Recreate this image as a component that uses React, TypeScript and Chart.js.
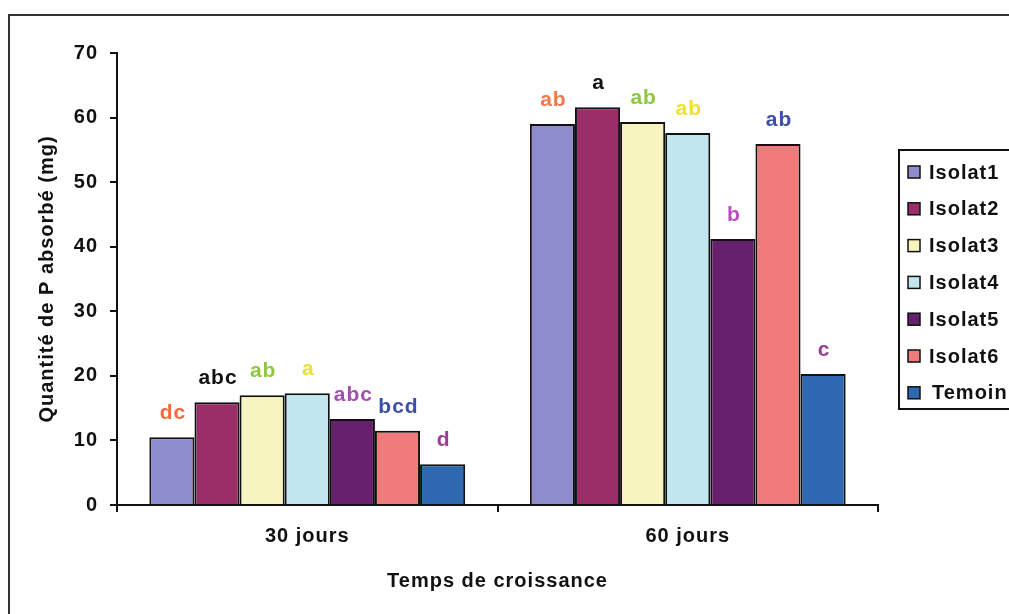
import React, { useEffect, useRef } from "react";
import { Chart, registerables } from "chart.js";

Chart.register(...registerables);

const categories = ["30 jours", "60 jours"];
const seriesNames = ["Isolat1", "Isolat2", "Isolat3", "Isolat4", "Isolat5", "Isolat6", "Temoin"];
const isolat1 = [10.5, 59.0];
const isolat2 = [15.9, 61.6];
const isolat3 = [17.0, 59.3];
const isolat4 = [17.3, 57.6];
const isolat5 = [13.3, 41.2];
const isolat6 = [11.5, 55.9];
const temoin = [6.3, 20.3];
const seriesValues = [isolat1, isolat2, isolat3, isolat4, isolat5, isolat6, temoin];
const seriesColors = ["#8F8CCB", "#9A2E68", "#F8F4C0", "#C2E6F0", "#66206E", "#EF7B7B", "#2E67B2"];

const letters30 = ["dc", "abc", "ab", "a", "abc", "bcd", "d"];
const letters60 = ["ab", "a", "ab", "ab", "b", "ab", "c"];
const letterColors30 = ["#F26A3A", "#111111", "#8DC63F", "#E6E23A", "#A24FB0", "#3A4FA8", "#9B3B96"];
const letterColors60 = ["#F2774A", "#111111", "#8DC63F", "#F0E030", "#B94FBF", "#3D4FA6", "#9B3B96"];

const yMin = 0;
const yMax = 70;
const yStep = 10;

const FONT = "'Liberation Sans', Arial, sans-serif";

export default function App() {
  const ref = useRef<HTMLCanvasElement>(null);

  useEffect(() => {
    if (!ref.current) return;
    const spacing = {
      id: "spacing",
      beforeUpdate(chart: any) {
        chart.ctx.letterSpacing = "1px";
      },
      beforeDraw(chart: any) {
        const ctx = chart.ctx;
        ctx.letterSpacing = "1px";
        ctx.save();
        ctx.fillStyle = "#ffffff";
        ctx.fillRect(0, 0, chart.width, chart.height);
        ctx.strokeStyle = "#333333";
        ctx.lineWidth = 2;
        ctx.beginPath();
        ctx.moveTo(9, chart.height + 5);
        ctx.lineTo(9, 15);
        ctx.lineTo(chart.width + 5, 15);
        ctx.stroke();
        ctx.restore();
      },
      afterDraw(chart: any) {
        const ctx = chart.ctx;
        ctx.save();
        ctx.letterSpacing = "1px";
        ctx.font = `bold 21px ${FONT}`;
        ctx.textAlign = "center";
        ctx.textBaseline = "alphabetic";
        chart.data.datasets.forEach((_: any, i: number) => {
          const meta = chart.getDatasetMeta(i);
          meta.data.forEach((bar: any, j: number) => {
            const txt = j === 0 ? letters30[i] : letters60[i];
            ctx.fillStyle = j === 0 ? letterColors30[i] : letterColors60[i];
            ctx.fillText(txt, bar.x + 1, bar.y - 18);
          });
        });
        // legend
        ctx.font = `bold 20px ${FONT}`;
        ctx.strokeStyle = "#111111";
        ctx.lineWidth = 2;
        ctx.strokeRect(899, 150, 130, 259);
        ctx.textAlign = "left";
        ctx.textBaseline = "middle";
        seriesNames.forEach((name, k) => {
          const cy = 172 + k * 36.8;
          ctx.fillStyle = seriesColors[k];
          ctx.fillRect(908, cy - 6, 12, 12);
          ctx.lineWidth = 1.5;
          ctx.strokeStyle = "#111111";
          ctx.strokeRect(908, cy - 6, 12, 12);
          ctx.fillStyle = "#111111";
          ctx.fillText(name, k === 6 ? 932 : 929, cy + 1);
        });
        ctx.restore();
      },
    };

    const chart = new Chart(ref.current, {
      type: "bar",
      data: {
        labels: categories,
        datasets: seriesNames.map((name, i) => ({
          label: name,
          data: seriesValues[i],
          backgroundColor: seriesColors[i],
          borderColor: "#111111",
          borderWidth: 2,
          categoryPercentage: 0.83,
          barPercentage: 1,
        })),
      },
      options: {
        responsive: false,
        animation: false,
        layout: { padding: { left: 17, top: 53, right: 131, bottom: 9 } },
        plugins: { legend: { display: false }, tooltip: { enabled: false } },
        scales: {
          x: {
            afterFit: (s: any) => {
              s.height = 100;
            },
            grid: {
              offset: true,
              drawOnChartArea: false,
              drawTicks: true,
              tickLength: 7,
              color: "#111111",
              lineWidth: 2,
            },
            border: { display: true, color: "#111111", width: 2 },
            ticks: { color: "#111111", font: { family: FONT, size: 20, weight: "bold" }, padding: 12 },
            title: {
              display: true,
              text: "Temps de croissance",
              color: "#111111",
              font: { family: FONT, size: 20, weight: "bold" },
              padding: { top: 0, bottom: 12 },
            },
          },
          y: {
            min: yMin,
            max: yMax,
            afterFit: (s: any) => {
              s.width = 100;
            },
            grid: {
              drawOnChartArea: false,
              drawTicks: true,
              tickLength: 7,
              color: "#111111",
              lineWidth: 2,
            },
            border: { display: true, color: "#111111", width: 2 },
            ticks: {
              stepSize: yStep,
              color: "#111111",
              font: { family: FONT, size: 20, weight: "bold" },
              padding: 12,
            },
            title: {
              display: true,
              text: "Quantité de P absorbé (mg)",
              color: "#111111",
              font: { family: FONT, size: 20, weight: "bold" },
              padding: { top: 18, bottom: 0 },
            },
          },
        },
      },
      plugins: [spacing],
    } as any);
    return () => chart.destroy();
  }, []);

  return (
    <div style={{ position: "absolute", left: 0, top: 0, width: 1009, height: 614 }}>
      <canvas ref={ref} width={1009} height={614} style={{ width: 1009, height: 614, display: "block" }} />
    </div>
  );
}
